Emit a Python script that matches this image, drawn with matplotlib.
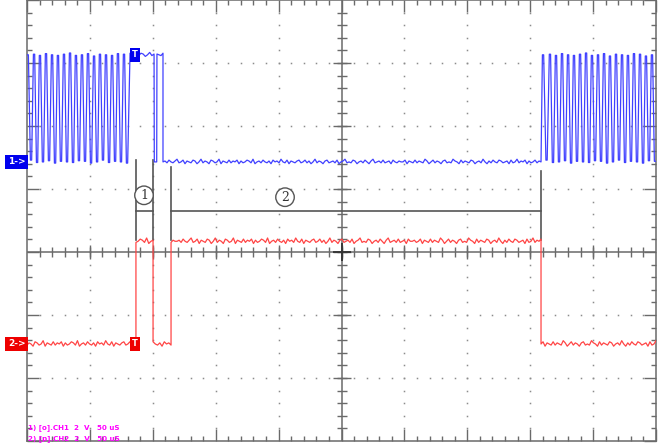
import matplotlib
matplotlib.use("Agg")
import matplotlib.pyplot as plt
from matplotlib.ticker import MultipleLocator
import numpy as np

# x in uS (50 uS / div, 10 div), y in divisions from the bottom edge (7 div shown)
blue_hi, blue_lo = 6.13, 4.43
red_hi, red_lo = 3.17, 1.54

burst1_peaks = [0.6, 5.6, 10.3, 15.1, 19.9, 24.6, 29.4, 34.2, 38.9, 43.7,
                48.5, 53.3, 58.0, 62.8, 67.6, 72.3, 77.1]
burst1_troughs = [3.2, 8.0, 12.7, 17.5, 22.3, 27.0, 31.8, 36.6, 41.3, 46.1,
                  50.9, 55.7, 60.4, 65.2, 70.0, 74.7, 79.5]
burst2_peaks = [410.2, 415.7, 420.5, 425.3, 430.1, 434.8, 439.6, 444.4, 449.1, 453.9,
                458.7, 463.4, 468.2, 473.0, 477.7, 482.5, 487.3, 492.0, 496.8]
burst2_troughs = [413.0, 418.1, 422.9, 427.7, 432.5, 437.2, 442.0, 446.8, 451.5, 456.3,
                  461.1, 465.8, 470.6, 475.4, 480.1, 484.9, 489.7, 494.4, 499.2]

blue_edges = [81.9, 101.0, 103.3, 108.1, 408.6]
red_edges = [86.6, 100.2, 114.5, 408.6]
trigger_t = 85.9

# baseline jitter in pixels (1 div = 63 px)
noise_px = [
    0, 1, -1, 2, 0, -1, 1, 3, -1, 0, 2, -2, 1, 0, -1, 2, 1, -2, 0, 3,
    -1, 1, 0, -2, 2, 1, -1, 0, 3, -2, 1, 0, -1, 2, -1, 1, 0, 2, -2, 1,
    -1, 0, 2, 1, -1, 3, -2, 0, 1, -1, 2, 0, -1, 1, -2, 2, 0, 1, -1, 3,
    0, -1, 2, -2, 1, 0, -1, 1, 2, -1, 0, 2, -1, 1, -2, 0, 3, -1, 1, 0,
    -2, 1, 2, -1, 0, 1, -1, 2, -2, 0, 1, 3, -1, 0, -1, 2, 1, -2, 0, 1,
    -1, 2, 0, -2, 1, 3, -1, 0, 1, -1, 2, -1, 0, 1, -2, 2, 0, -1, 1, 0,
]
noise_long = noise_px + noise_px[::-1][3:] + noise_px[:3]

# annotation: vertical marker lines (x, top), brackets and circled numbers
mark_x = [86.6, 100.2, 114.5, 408.6]
mark_top = [4.46, 4.46, 4.35, 4.29]
mark_bottom = 3.19
bracket_y = 3.65
brackets = [(86.6, 100.2), (114.5, 408.6)]
labels = [("1", 93.0, 3.90), ("2", 205.1, 3.87)]

legend_lines = ["1) [o].CH1  2  V   50 uS", "2) [p].CH2  2  V   50 uS"]

BLUE = "#4040ff"
RED = "#ff4545"
GRID = "#6a6a6a"


def flat(t0, t1, level, vals, scale=1.0):
    ts = np.linspace(t0, t1, len(vals))
    return list(ts), [level + v * scale / 63.0 for v in vals]


def burst(peaks, troughs, hi, lo):
    t, v = [], []
    for i, (p, q) in enumerate(zip(peaks, troughs)):
        n1 = 0.6 * noise_px[i % len(noise_px)] / 63.0
        n2 = 0.6 * noise_px[(i + 7) % len(noise_px)] / 63.0
        t += [p - 0.5, p + 0.5, q - 0.5, q + 0.5]
        v += [hi + n1, hi + n1, lo + n2, lo + n2]
    return t, v


# ---- channel 1 (blue)
bt, bv = burst(burst1_peaks, burst1_troughs, blue_hi, blue_lo)
a, b = flat(blue_edges[0], blue_edges[1], blue_hi, noise_px[10:22], 0.8)
bt += a; bv += b
bt += [blue_edges[1] + 0.2, blue_edges[2] - 0.2]; bv += [blue_lo, blue_lo]
a, b = flat(blue_edges[2], blue_edges[3], blue_hi, noise_px[30:34], 0.8)
bt += a; bv += b
a, b = flat(blue_edges[3], blue_edges[4], blue_lo, noise_long[0:190], 0.9)
bt += a; bv += b
a, b = burst(burst2_peaks, burst2_troughs, blue_hi, blue_lo)
bt += a; bv += b

# ---- channel 2 (red)
rt, rv = [], []
segs = [(0, red_edges[0], red_lo, noise_long[20:75]),
        (red_edges[0], red_edges[1], red_hi, noise_px[40:49]),
        (red_edges[1], red_edges[2], red_lo, noise_px[50:59]),
        (red_edges[2], red_edges[3], red_hi, noise_long[::-1][:185]),
        (red_edges[3], 500, red_lo, noise_long[120:178])]
for t0, t1, lvl, vals in segs:
    a, b = flat(t0, t1, lvl, vals, 1.1)
    rt += a; rv += b

fig = plt.figure(figsize=(6.62, 4.44), dpi=100)
ax = fig.add_axes([27 / 662, 3 / 444, 629 / 662, 441 / 444])
ax.set_xlim(0, 500)
ax.set_ylim(0, 7)

# dotted graticule
for k in range(1, 10):
    if k == 5:
        continue
    ys = np.arange(0.2, 7.0, 0.2)
    ax.plot([k * 50] * len(ys), ys, ls="none", marker="s", ms=1.1, mew=0, color="#8c8c8c")
for k in range(1, 7):
    if k == 3:
        continue
    xs = np.arange(10, 500, 10)
    ax.plot(xs, [k] * len(xs), ls="none", marker="s", ms=1.1, mew=0, color="#8c8c8c")

# center cross with ticks
ax.axvline(250, color=GRID, lw=1.1)
ax.axhline(3, color=GRID, lw=1.1)
xt = np.arange(10, 500, 10)
ax.plot(xt, [3] * len(xt), ls="none", marker="|", ms=6.5, mew=1, color=GRID)
ax.plot(np.arange(50, 500, 50), [3] * 9, ls="none", marker="|", ms=9.5, mew=1, color=GRID)
yt = np.arange(0.2, 7.0, 0.2)
ax.plot([250] * len(yt), yt, ls="none", marker="_", ms=7.5, mew=1, color=GRID)
ax.plot([250] * 6, range(1, 7), ls="none", marker="_", ms=12.5, mew=1, color=GRID)
ax.plot([250], [3], ls="none", marker="+", ms=12.5, mew=1.3, color="#333333")

# border ticks
ax.xaxis.set_major_locator(MultipleLocator(50))
ax.xaxis.set_minor_locator(MultipleLocator(10))
ax.yaxis.set_major_locator(MultipleLocator(1))
ax.yaxis.set_minor_locator(MultipleLocator(0.2))
ax.tick_params(which="both", direction="in", top=True, right=True,
               labelbottom=False, labelleft=False, color=GRID, width=1)
ax.tick_params(which="major", length=8.6)
ax.tick_params(which="minor", length=3.6)
for s in ax.spines.values():
    s.set_color(GRID)
    s.set_linewidth(1.1)

# annotation lines
for x, top in zip(mark_x, mark_top):
    ax.plot([x, x], [mark_bottom, top], color="#555555", lw=1.2, zorder=3)
for x0, x1 in brackets:
    ax.plot([x0, x1], [bracket_y, bracket_y], color="#555555", lw=1.2, zorder=3)
for txt, x, y in labels:
    ax.text(x, y, txt, ha="center", va="center", fontsize=9, family="DejaVu Serif",
            color="#333333", zorder=4,
            bbox=dict(boxstyle="circle,pad=0.22", fc="white", ec="#555555", lw=1.0))

# waveforms
ax.plot(bt, bv, color=BLUE, lw=0.9, zorder=5)
ax.plot(rt, rv, color=RED, lw=0.9, zorder=5)

# channel and trigger markers
ytr = ax.get_yaxis_transform()
ax.text(-0.002, blue_lo, "1->", transform=ytr, ha="right", va="center", color="white",
        fontsize=6.5, fontweight="bold", clip_on=False, zorder=6,
        bbox=dict(boxstyle="square,pad=0.3", fc="#0000ee", ec="none"))
ax.text(-0.002, red_lo, "2->", transform=ytr, ha="right", va="center", color="white",
        fontsize=6.5, fontweight="bold", clip_on=False, zorder=6,
        bbox=dict(boxstyle="square,pad=0.3", fc="#ee0000", ec="none"))
ax.text(trigger_t, blue_hi, "T", ha="center", va="center", color="white",
        fontsize=6, fontweight="bold", zorder=6,
        bbox=dict(boxstyle="square,pad=0.3", fc="#0000ee", ec="none"))
ax.text(trigger_t, red_lo, "T", ha="center", va="center", color="white",
        fontsize=6, fontweight="bold", zorder=6,
        bbox=dict(boxstyle="square,pad=0.3", fc="#ee0000", ec="none"))

# scale readout
for i, line in enumerate(legend_lines):
    ax.text(0.5, 0.22 - i * 0.175, line, ha="left", va="center", color="#ff00ff",
            fontsize=5.1, fontweight="bold", family=["Liberation Sans Narrow", "DejaVu Sans"],
            zorder=6)

fig.savefig("out.png", dpi=100)
plt.close(fig)
